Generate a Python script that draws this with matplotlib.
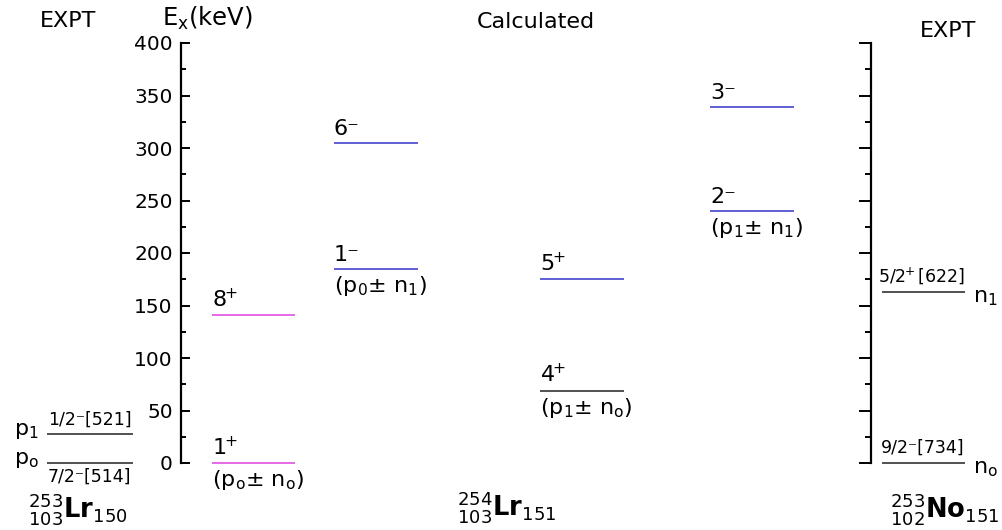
import matplotlib
matplotlib.use('Agg')
import matplotlib.pyplot as plt
from matplotlib.ticker import MultipleLocator

plt.rcParams['font.family'] = ['DejaVu Sans']
plt.rcParams['mathtext.fontset'] = 'dejavusans'

# ---------------- data ----------------
# Experimental 253Lr (proton orbitals)
lr_names = [r'p$_\mathrm{o}$', r'p$_1$']
lr_E = [0, 28]
lr_orbitals = ['7/2⁻[514]', '1/2⁻[521]']

# Calculated 254Lr levels
calc_spins = [r'$\mathregular{1^{\!\!+}}$', r'$\mathregular{8^{\!\!+}}$', '6⁻', '1⁻',
              r'$\mathregular{5^{\!\!+}}$', r'$\mathregular{4^{\!\!+}}$', '3⁻', '2⁻']
calc_E = [0, 141, 305, 185, 175, 69, 339, 240]
calc_config = [r'(p$_\mathrm{o}$± n$_\mathrm{o}$)', '', '', r'(p$_0$± n$_1$)',
               '', r'(p$_1$± n$_\mathrm{o}$)', '', r'(p$_1$± n$_1$)']

# Experimental 253No (neutron orbitals)
no_names = [r'n$_\mathrm{o}$', r'n$_1$']
no_E = [0, 163]
no_orbitals = ['9/2⁻[734]', r'$\mathregular{5/2^{\!\!+}[622]}$']

y_ticks = [0, 50, 100, 150, 200, 250, 300, 350, 400]

# ---------------- style / layout ----------------
MAG = '#e050e0'
BLU = '#4444cc'
BLK = '#333333'
calc_colors = [MAG, MAG, BLU, BLU, BLU, BLK, BLU, BLU]
calc_cols = [(212, 295), (212, 295), (334, 418), (334, 418),
             (540, 624), (540, 624), (710, 794), (710, 794)]
lr_col = (47, 133)
no_col = (882, 965)

W, H = 1003, 530
Y0, YTOP = 463, 43
FS = 15

fig = plt.figure(figsize=(W / 100, H / 100), dpi=100)
pos = [0, (H - Y0) / H, 1, (Y0 - YTOP) / H]
ax = fig.add_axes(pos)
axr = fig.add_axes(pos)
for a in (ax, axr):
    a.set_xlim(0, W)
    a.set_ylim(y_ticks[0], y_ticks[-1])
    a.patch.set_visible(False)
    a.set_xticks([])
    for s in ('top', 'bottom'):
        a.spines[s].set_visible(False)

# left axis
ax.spines['right'].set_visible(False)
ax.spines['left'].set_position(('data', 181))
ax.spines['left'].set_linewidth(1.6)
ax.set_yticks(y_ticks)
ax.yaxis.set_minor_locator(MultipleLocator(25))
ax.tick_params(axis='y', which='major', direction='in', length=6.5, width=1.4,
               labelsize=14.5, pad=6)
ax.tick_params(axis='y', which='minor', direction='in', length=3.6, width=1.4)

# right axis
axr.spines['left'].set_visible(False)
axr.spines['right'].set_position(('data', 871))
axr.spines['right'].set_linewidth(1.6)
axr.yaxis.tick_right()
axr.set_yticks(y_ticks)
axr.yaxis.set_minor_locator(MultipleLocator(25))
axr.tick_params(axis='y', which='major', direction='in', length=8.6, width=1.4,
                labelright=False)
axr.tick_params(axis='y', which='minor', direction='in', length=4.3, width=1.4)


def ann(s, x, y, dx, dy, ha='left', va='bottom', fs=FS):
    ax.annotate(s, (x, y), xytext=(dx, dy), textcoords='offset pixels',
                ha=ha, va=va, fontsize=fs, annotation_clip=False)


# Lr 253 experimental
ax.hlines(lr_E, lr_col[0], lr_col[1], colors=BLK, lw=1.2, clip_on=False)
for name, e, orb, i in zip(lr_names, lr_E, lr_orbitals, range(2)):
    ann(name, lr_col[0], e, -8, 3, ha='right', va='center', fs=16)
    if i == 0:
        ann(orb, lr_col[0] + 1, e, 0, -5, va='top', fs=12.5)
    else:
        ann(orb, lr_col[0] + 1, e, 0, 5, va='bottom', fs=12.5)

# Calculated levels
for s, e, cfg, c, (x0, x1) in zip(calc_spins, calc_E, calc_config, calc_colors, calc_cols):
    ax.hlines(e, x0, x1, colors=c, lw=1.2, clip_on=False)
    ann(s, x0, e, 0, 4, fs=16)
    if cfg:
        ann(cfg, x0, e, 0, -5, va='top', fs=16)

# No 253 experimental
ax.hlines(no_E, no_col[0], no_col[1], colors=BLK, lw=1.2, clip_on=False)
for name, e, orb in zip(no_names, no_E, no_orbitals):
    ann(name, no_col[1], e, 8, -6, va='center', fs=16)
    ann(orb, no_col[1], e, 0, 6, ha='right', fs=12.5)


def ftxt(x, y, s, **kw):
    fig.text(x / W, 1 - y / H, s, **kw)


ftxt(68, 21, 'EXPT', ha='center', va='center', fontsize=16)
ftxt(948, 31, 'EXPT', ha='center', va='center', fontsize=16)
ftxt(536, 22, 'Calculated', ha='center', va='center', fontsize=16)
ftxt(162, 26, r'E$_\mathrm{x}$(keV)', ha='left', va='baseline', fontsize=17.5)

ftxt(28, 491, r'${}^{253}_{103}\mathbf{Lr}_{150}$', ha='left', va='top', fontsize=18.5)
ftxt(457, 489, r'${}^{254}_{103}\mathbf{Lr}_{151}$', ha='left', va='top', fontsize=18.5)
ftxt(890, 491, r'${}^{253}_{102}\mathbf{No}_{151}$', ha='left', va='top', fontsize=18.5)

fig.savefig('out.png', dpi=100)
